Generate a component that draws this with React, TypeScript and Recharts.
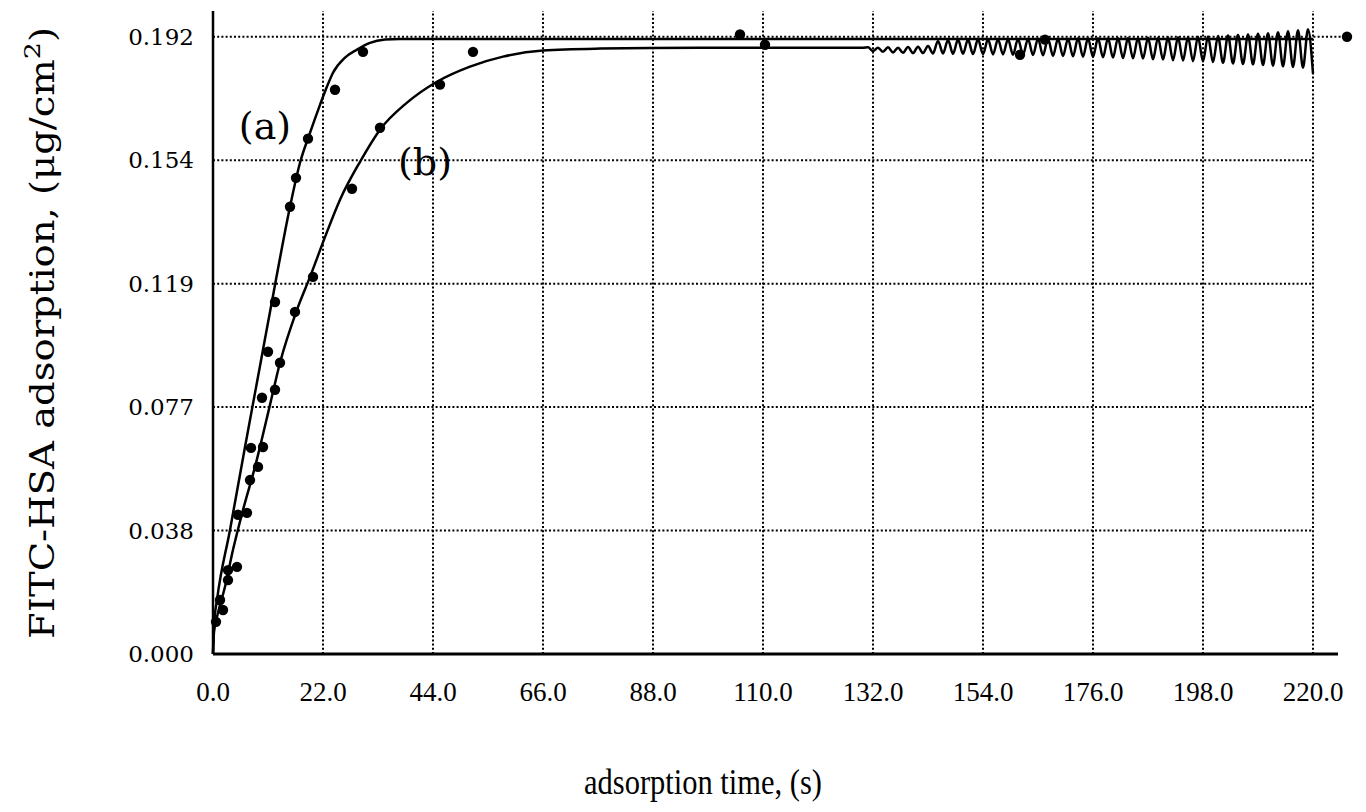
import React from 'react';
import { ComposedChart, Line, Scatter, XAxis, YAxis, ZAxis, ReferenceLine } from 'recharts';

// axis ticks
const xTicks = [0, 22, 44, 66, 88, 110, 132, 154, 176, 198, 220];
const yTicks = [0, 0.0384, 0.0768, 0.1152, 0.1536, 0.192];
const yTickLabels = ['0.000', '0.038', '0.077', '0.119', '0.154', '0.192'];

// fitted curve (a)
const fitATime = [0, 0.2, 0.8, 3.4, 6.4, 9.4, 12.4, 15.4, 17.4, 19.4, 21.4, 22.8, 24, 26.4, 28.8, 31.4, 34.4, 37.4, 60, 100, 140, 180, 220];
const fitAValue = [0, 0.009, 0.0168, 0.0386, 0.0644, 0.0896, 0.1148, 0.1391, 0.1528, 0.1621, 0.1708, 0.1765, 0.1808, 0.1855, 0.188, 0.1901, 0.1911, 0.1913, 0.1913, 0.1913, 0.1913, 0.1913, 0.1913];

// fitted curve (b), rising part + the noisy tail
const fitBTime = [0, 0.2, 0.8, 2.4, 4, 6, 8.4, 11.4, 13.4, 16.8, 19.4, 22.8, 25.4, 29.4, 33.4, 38.8, 44.8, 51.4, 58, 66, 77.4, 97.4, 117.4, 130,
  131, 132, 133, 134, 135, 136, 137, 138, 139, 140, 141, 142, 143, 144, 145, 146, 147, 148, 149, 150,
  151, 152, 153, 154, 155, 156, 157, 158, 159, 160, 161, 162, 163, 164, 165, 166, 167, 168, 169, 170,
  171, 172, 173, 174, 175, 176, 177, 178, 179, 180, 181, 182, 183, 184, 185, 186, 187, 188, 189, 190,
  191, 192, 193, 194, 195, 196, 197, 198, 199, 200, 201, 202, 203, 204, 205, 206, 207, 208, 209, 210,
  211, 212, 213, 214, 215, 216, 217, 218, 219, 220];
const fitBValue = [0, 0.0068, 0.0115, 0.0209, 0.0324, 0.0448, 0.0582, 0.0775, 0.0906, 0.1071, 0.1173, 0.1313, 0.1413, 0.1531, 0.1631, 0.1715, 0.178, 0.1827, 0.1858, 0.1877, 0.1883, 0.1886, 0.1886, 0.1886,
  0.1887, 0.1875, 0.1886, 0.1873, 0.1887, 0.1871, 0.1886, 0.187, 0.1888, 0.1869, 0.1889, 0.1869, 0.1891, 0.1868, 0.1907, 0.1868,
  0.191, 0.1867, 0.1911, 0.1867, 0.1911, 0.1866, 0.1912, 0.1866, 0.1912, 0.1865, 0.1912, 0.1865, 0.1912, 0.1864, 0.1913, 0.1864,
  0.1913, 0.1863, 0.1914, 0.1862, 0.1914, 0.1861, 0.1914, 0.186, 0.1914, 0.1859, 0.1915, 0.1858, 0.1915, 0.1857, 0.1915, 0.1856,
  0.1915, 0.1855, 0.1916, 0.1854, 0.1916, 0.1853, 0.1916, 0.1852, 0.1917, 0.185, 0.1917, 0.1849, 0.1918, 0.1847, 0.1918, 0.1846,
  0.1919, 0.1844, 0.192, 0.1843, 0.1921, 0.1841, 0.1922, 0.1839, 0.1924, 0.1837, 0.1925, 0.1835, 0.1927, 0.1834, 0.1929, 0.1832,
  0.1931, 0.183, 0.1934, 0.1828, 0.1937, 0.1826, 0.194, 0.1824, 0.1943, 0.1805];

// measured points
const dotsATime = [0.6, 1.4, 3, 5, 7.6, 9.8, 11, 12.4, 15.4, 16.6, 19, 24.4, 30, 105.4, 166.4, 226.8];
const dotsAValue = [0.01, 0.0168, 0.0261, 0.0433, 0.0641, 0.0797, 0.094, 0.1095, 0.1391, 0.1481, 0.1603, 0.1755, 0.1873, 0.1927, 0.1911, 0.192];
const dotsBTime = [2, 3, 4.8, 6.8, 7.4, 9, 10, 12.4, 13.4, 16.4, 20, 27.8, 33.4, 45.4, 52, 110.4, 161.4];
const dotsBValue = [0.0137, 0.023, 0.0271, 0.0439, 0.0541, 0.0582, 0.0644, 0.0822, 0.0906, 0.1064, 0.1173, 0.1447, 0.1637, 0.1771, 0.1873, 0.1895, 0.1864];

const toRows = (ts: number[], vs: number[]) => ts.map((t, i) => ({ t, v: vs[i] }));

const fitA = toRows(fitATime, fitAValue);
const fitB = toRows(fitBTime, fitBValue);
const dots = [...toRows(dotsATime, dotsAValue), ...toRows(dotsBTime, dotsBValue)];

const gridStyle = { stroke: '#000', strokeWidth: 2, strokeDasharray: '2 2.2' };

export default function App() {
  return (
    <ComposedChart width={1356} height={800} margin={{ top: 3, right: 11, bottom: 54, left: 125 }}>
      <XAxis
        type="number"
        dataKey="t"
        domain={[0, 228]}
        ticks={xTicks}
        tickFormatter={(v: number) => v.toFixed(1)}
        axisLine={false}
        tickLine={false}
        tickSize={0}
        tickMargin={28}
        height={100}
        tick={{ fontFamily: 'Liberation Serif', fontSize: 27, fill: '#000' }}
      />
      <YAxis
        type="number"
        dataKey="v"
        domain={[0, 0.2]}
        ticks={yTicks}
        tickFormatter={(v: number) => yTickLabels[yTicks.indexOf(v)]}
        axisLine={{ stroke: '#000', strokeWidth: 2.5 }}
        tickLine={false}
        tickSize={0}
        tickMargin={19}
        width={80}
        tick={{ fontFamily: 'DejaVu Serif', fontSize: 23, fill: '#000' }}
      />
      <ZAxis range={[85, 85]} />
      {xTicks.slice(1).map((t) => (
        <ReferenceLine key={'vx' + t} x={t} {...gridStyle} />
      ))}
      {yTicks.slice(1).map((v, i) => (
        <ReferenceLine
          key={'hy' + i}
          segment={[{ x: 0, y: v }, { x: i === yTicks.length - 2 ? 227 : 220, y: v }]}
          {...gridStyle}
        />
      ))}
      <ReferenceLine segment={[{ x: 0, y: 0 }, { x: 225, y: 0 }]} stroke="#000" strokeWidth={3} />
      <Line data={fitA} dataKey="v" type="monotone" stroke="#000" strokeWidth={2.5} dot={false} isAnimationActive={false} />
      <Line data={fitB} dataKey="v" type="monotone" stroke="#000" strokeWidth={2.5} dot={false} isAnimationActive={false} />
      <Scatter data={dots} dataKey="v" fill="#000" isAnimationActive={false} />
      <text x={257} y={131} textAnchor="middle" fontFamily="DejaVu Serif" fontSize={38} fill="#000">(a)</text>
      <text x={417} y={167} textAnchor="middle" fontFamily="DejaVu Serif" fontSize={38} fill="#000"
        stroke="#fff" strokeWidth={10} paintOrder="stroke">(b)</text>
      <text x={695} y={786} textAnchor="middle" fontFamily="Liberation Serif" fontSize={36} fill="#000"
        textLength={238} lengthAdjust="spacingAndGlyphs">
        adsorption time, (s)
      </text>
      <text x={46} y={325} transform="rotate(-90 46 325)" textAnchor="middle" fontFamily="DejaVu Serif" fontSize={33} fill="#000"
        textLength={612} lengthAdjust="spacingAndGlyphs">
        FITC-HSA adsorption, (μg/cm<tspan dy={-14} fontSize={23}>2</tspan><tspan dy={14}>)</tspan>
      </text>
    </ComposedChart>
  );
}
